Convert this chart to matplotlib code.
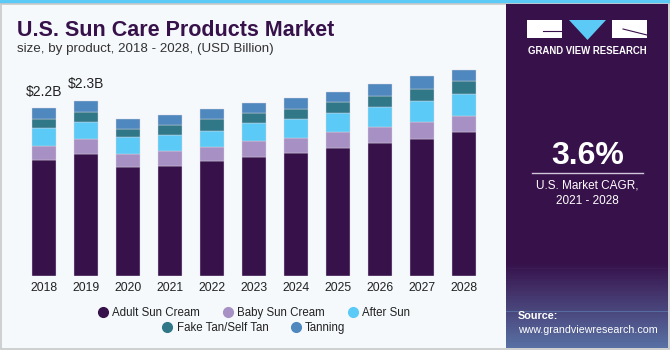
import numpy as np
import matplotlib.pyplot as plt
from matplotlib.patches import Rectangle, Polygon
from matplotlib.lines import Line2D

plt.rcParams['font.family'] = ['Liberation Sans', 'DejaVu Sans']

years = ['2018', '2019', '2020', '2021', '2022', '2023', '2024', '2025', '2026', '2027', '2028']
adult = [1.53, 1.60, 1.43, 1.45, 1.51, 1.57, 1.62, 1.68, 1.75, 1.80, 1.89]
baby = [0.175, 0.205, 0.171, 0.193, 0.193, 0.201, 0.197, 0.211, 0.211, 0.232, 0.214]
after_sun = [0.242, 0.216, 0.224, 0.214, 0.205, 0.237, 0.246, 0.250, 0.258, 0.268, 0.289]
fake_tan = [0.122, 0.136, 0.105, 0.132, 0.154, 0.132, 0.132, 0.149, 0.145, 0.162, 0.171]
tanning = [0.136, 0.145, 0.141, 0.128, 0.136, 0.137, 0.145, 0.128, 0.163, 0.167, 0.149]
series = ['Adult Sun Cream', 'Baby Sun Cream', 'After Sun', 'Fake Tan/Self Tan', 'Tanning']
colors = ['#37114a', '#a690c4', '#5ccaf6', '#307787', '#4f88be']
labels_top = {0: '$2.2B', 1: '$2.3B'}

W, H = 670, 350
fig = plt.figure(figsize=(W / 100, H / 100), dpi=100)
fig.patch.set_facecolor('#f5f9fc')

# frame: top band, border, right panel
bg = fig.add_axes([0, 0, 1, 1])
bg.set_xlim(0, W)
bg.set_ylim(H, 0)
bg.axis('off')
bg.add_patch(Rectangle((0, 0), W, 4, color='#5ccaf6', lw=0))
bg.add_patch(Rectangle((0.5, 4), W - 1.5, H - 5, fill=False, ec='#c8c8c8', lw=1.2))
bg.add_patch(Rectangle((506, 4), 162, H - 6, color='#37114a', lw=0))
# faded blue texture at the bottom of the panel
for i, a in enumerate(np.linspace(0, 0.6, 40)):
    y0 = 262 + i * 2.15
    bg.add_patch(Rectangle((506, y0), 162, 2.2, color='#6fb0e0', alpha=a, lw=0))

# logo
bg.add_patch(Rectangle((527, 20), 35, 18, color='white', lw=0))
bg.add_patch(Polygon([(569, 20), (606, 20), (587.5, 40)], color='#5ccaf6', lw=0))
bg.add_patch(Rectangle((612, 20), 35, 18, color='white', lw=0))
bg.plot([543, 562], [31, 31], color='#37114a', lw=0.8)
bg.plot([623, 647], [29, 35], color='#37114a', lw=0.8)
bg.text(587, 51, 'GRAND VIEW RESEARCH', color='white', fontsize=6.9, fontweight='bold',
        ha='center', va='center')

bg.text(587.5, 156, '3.6%', color='white', fontsize=23, fontweight='bold', ha='center', va='center')
bg.plot([532, 643], [173, 173], color='#cfc6d8', lw=1)
bg.text(587.5, 186, 'U.S. Market CAGR,', color='white', fontsize=8.5, ha='center', va='center')
bg.text(587.5, 201, '2021 - 2028', color='white', fontsize=8.5, ha='center', va='center')
bg.text(518, 316, 'Source:', color='white', fontsize=7.8, fontweight='bold', ha='left', va='center')
bg.text(518, 330, 'www.grandviewresearch.com', color='white', fontsize=7.7, ha='left', va='center')

# titles
bg.text(17, 30, 'U.S. Sun Care Products Market', color='#37114a', fontsize=15.5,
        fontweight='bold', ha='left', va='center')
bg.text(17, 49, 'size, by product, 2018 - 2028, (USD Billion)', color='#333333',
        fontsize=9.6, ha='left', va='center')

# bars
ax = fig.add_axes([22.7 / W, (H - 276) / H, 462 / W, 2.8 * 76 / H])
ax.set_facecolor('none')
x = np.arange(len(years))
bottom = np.zeros(len(years))
handles = []
for name, vals, c in zip(series, [adult, baby, after_sun, fake_tan, tanning], colors):
    ax.bar(x, vals, 0.571, bottom=bottom, color=c, edgecolor='#d9d4e0', linewidth=0.3)
    bottom += np.array(vals)
    handles.append(Line2D([], [], marker='o', ls='none', color=c, markersize=7, label=name))
for i, t in labels_top.items():
    ax.text(x[i], bottom[i] + 0.13, t, fontsize=10, color='#222222', ha='center', va='bottom')
ax.set_xlim(-0.5, len(years) - 0.5)
ax.set_ylim(0, 2.8)
ax.set_xticks(x)
ax.set_xticklabels(years, fontsize=8.8, color='#222222')
ax.set_yticks([])
ax.tick_params(axis='x', length=0, pad=4)
for s in ax.spines.values():
    s.set_visible(False)

fig.legend(handles=handles[:3], loc='center', bbox_to_anchor=(253 / W, (H - 313) / H),
           ncol=3, frameon=False, fontsize=8.3, handletextpad=0.2, columnspacing=1.8,
           borderaxespad=0, handlelength=1.2, labelcolor='#222222')
fig.legend(handles=handles[3:], loc='center', bbox_to_anchor=(253 / W, (H - 328) / H),
           ncol=2, frameon=False, fontsize=8.3, handletextpad=0.2, columnspacing=1.8,
           borderaxespad=0, handlelength=1.2, labelcolor='#222222')

fig.savefig('out.png', dpi=100, facecolor=fig.get_facecolor())
